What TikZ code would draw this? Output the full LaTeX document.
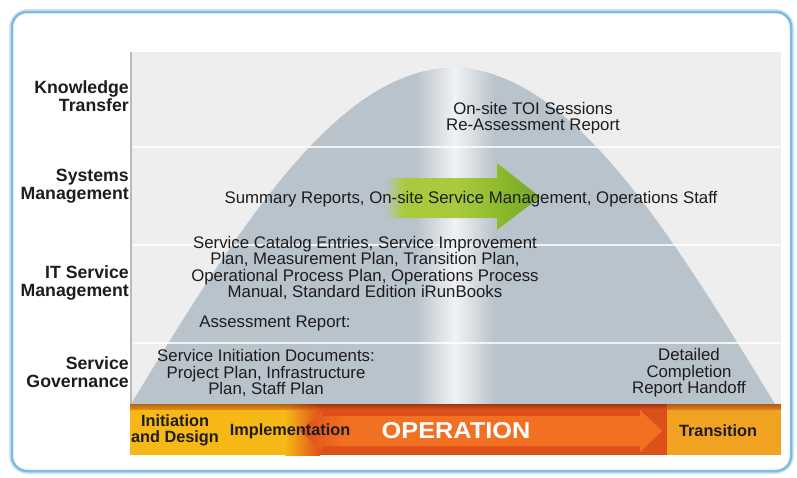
\documentclass[tikz,border=0pt]{standalone}
\usepackage{fontspec}
\setmainfont{Liberation Sans}

\definecolor{bellc}{RGB}{184,195,203}
\definecolor{panelc}{RGB}{238,238,238}
\definecolor{framec}{RGB}{125,188,226}
\definecolor{txt}{RGB}{30,28,30}
\definecolor{gold}{RGB}{246,184,22}
\definecolor{redor}{RGB}{222,80,26}
\definecolor{lightor}{RGB}{242,112,34}
\definecolor{orng}{RGB}{240,162,32}
\definecolor{grn}{RGB}{140,186,44}
\definecolor{grnlt}{RGB}{170,202,62}
\definecolor{grndk}{RGB}{118,166,38}

\pgfdeclarehorizontalshading{arrowshade}{100bp}{color(0bp)=(bellc); color(25bp)=(bellc); color(31bp)=(grnlt); color(48bp)=(grnlt); color(62bp)=(grn); color(75bp)=(grndk); color(100bp)=(grndk)}

\begin{document}
\begin{tikzpicture}[x=1pt,y=-1pt,
  lab/.style={font={\bfseries\fontsize{17.7}{17.5}\selectfont}, align=right, anchor=east, inner sep=0pt, text=txt},
  body/.style={font={\fontsize{16.8}{16.4}\selectfont}, align=center, inner sep=0pt, text=txt},
  bandlab/.style={font={\bfseries\fontsize{16.3}{16.3}\selectfont}, align=center, inner sep=0pt, text=txt},
  sep/.style={white, line width=1.6pt, opacity=0.8}]
\useasboundingbox (0,0) rectangle (797,477);
\fill[white] (0,0) rectangle (797,477);
% frame
\draw[framec!40, line width=6pt, rounded corners=16pt] (12,12) rectangle (791,471);
\draw[framec, line width=2.5pt, rounded corners=15pt, fill=white] (12,12) rectangle (791,471);
% panel
\fill[panelc] (130,52) rectangle (781,404);
\begin{scope}
  \clip (130,52) rectangle (781,404);
  \fill[bellc] plot[domain=131:775, samples=120] (\x,{404-336*cos((\x-453)*0.2795)}) -- cycle;
  \clip plot[domain=131:775, samples=120] (\x,{404-336*cos((\x-453)*0.2795)}) -- cycle;
  \shade[left color=bellc, right color=bellc, middle color=white!80!bellc] (415,52) rectangle (495,404);
\end{scope}
\foreach \yy in {147,245,343} \draw[sep] (131,\yy) -- (781,\yy);
\draw[gray!55, line width=2pt] (131,52) -- (131,404);
% green arrow
\shade[shading=arrowshade] (385,178) -- (497,178) -- (497,163) -- (540,197) -- (497,230) -- (497,218) -- (385,218) -- cycle;
% band
\fill[gold] (130,404) rectangle (300,455);
\shade[left color=gold, right color=redor] (285,404) rectangle (320,455);
\fill[redor] (320,404) rectangle (667,455);
\fill[orng] (667,404) rectangle (781,455);
\shade[left color=redor, right color=lightor] (300,431) -- (322,411) -- (322,416) -- (345,416) -- (345,446) -- (322,446) -- (322,451) -- cycle;
\fill[lightor] (345,416) -- (640,416) -- (640,410) -- (662,431) -- (640,452) -- (640,446) -- (345,446) -- cycle;
\shade[top color=black!60!redor, bottom color=redor, opacity=0.5] (130,404) rectangle (781,409);
% labels
\node[lab] (kt) at (129,96) {Knowledge\\Transfer};
\node[lab] (sm) at (129,186) {Systems\\Management};
\node[lab] (itsm) at (129,283) {IT Service\\Management};
\node[lab] (sg) at (129,372) {Service\\Governance};
% body texts
\node[body] (toi) at (533,118) {On-site TOI Sessions\\Re-Assessment Report};
\node[body] (sum) at (471,199) {Summary Reports, On-site Service Management, Operations Staff};
\node[body] (cat) at (365,268) {Service Catalog Entries, Service Improvement\\Plan, Measurement Plan, Transition Plan,\\Operational Process Plan, Operations Process\\Manual, Standard Edition iRunBooks};
\node[body] (ass) at (275,323) {Assessment Report:};
\node[body] (sid) at (266,373) {Service Initiation Documents:\\Project Plan, Infrastructure\\Plan, Staff Plan};
\node[body] (det) at (689,373) {Detailed\\Completion\\Report Handoff};
% band labels
\node[bandlab] (init) at (175,430) {Initiation\\and Design};
\node[bandlab] (impl) at (290,431) {Implementation};
\node[inner sep=0pt, text=white, font={\bfseries\fontsize{23}{23}\selectfont}] (op) at (456,431) {\scalebox{1.1}[1]{OPERATION}};
\node[bandlab] (tr) at (718,431) {Transition};
\end{tikzpicture}
\end{document}
